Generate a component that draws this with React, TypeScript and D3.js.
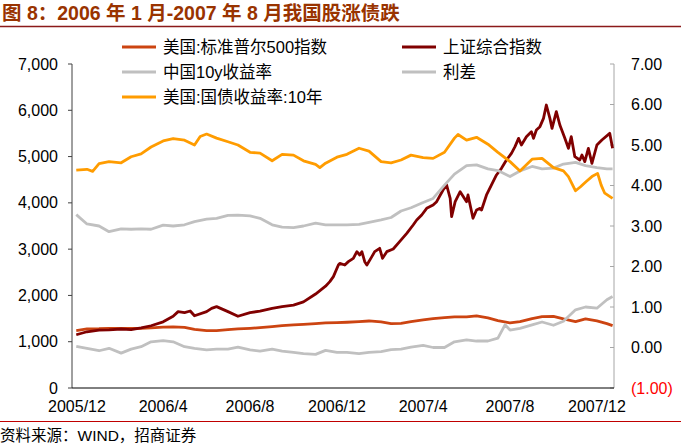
import React from 'react';
import * as d3 from 'd3';

const titleText = '图 8：2006 年 1 月-2007 年 8 月我国股涨债跌';
const sourceText = '资料来源：WIND，招商证券';

const seriesNames = ['美国:标准普尔500指数', '上证综合指数', '中国10y收益率', '利差', '美国:国债收益率:10年'];

const xTickDates = ['2005-12-01', '2006-04-01', '2006-08-01', '2006-12-01', '2007-04-01', '2007-08-01', '2007-12-01'];
const xTickLabels = ['2005/12', '2006/4', '2006/8', '2006/12', '2007/4', '2007/8', '2007/12'];
const leftTicks = [0, 1000, 2000, 3000, 4000, 5000, 6000, 7000];
const rightTicks = [-1, 0, 1, 2, 3, 4, 5, 6, 7];

const halfMonths = [
  '2005-11-30', '2005-12-15', '2006-01-01', '2006-01-15', '2006-02-01', '2006-02-15', '2006-03-01', '2006-03-15',
  '2006-04-01', '2006-04-15', '2006-05-01', '2006-05-15', '2006-06-01', '2006-06-15', '2006-07-01', '2006-07-15',
  '2006-08-01', '2006-08-15', '2006-09-01', '2006-09-15', '2006-10-01', '2006-10-15', '2006-11-01', '2006-11-15',
  '2006-12-01', '2006-12-15', '2007-01-01', '2007-01-15', '2007-02-01', '2007-02-15', '2007-03-01', '2007-03-15',
  '2007-04-01', '2007-04-15', '2007-05-01', '2007-05-15', '2007-06-01', '2007-06-15', '2007-07-01', '2007-07-15',
  '2007-08-01', '2007-08-15', '2007-09-01', '2007-09-15', '2007-10-01', '2007-10-15', '2007-11-01', '2007-11-15',
  '2007-12-01', '2007-12-15', '2007-12-23',
];

const sp500 = [
  1240, 1275, 1280, 1290, 1290, 1285, 1290, 1300, 1315, 1320, 1310, 1265, 1240, 1240, 1261, 1276,
  1290, 1304, 1326, 1348, 1362, 1376, 1391, 1405, 1412, 1420, 1434, 1448, 1427, 1391, 1398, 1434,
  1470, 1499, 1520, 1535, 1535, 1556, 1513, 1456, 1405, 1434, 1499, 1542, 1549, 1492, 1434, 1492,
  1448, 1391, 1348,
];

const china10y = [
  3.28, 3.05, 3.0, 2.86, 2.93, 2.92, 2.93, 2.92, 3.02, 3.0, 3.03, 3.11, 3.17, 3.19, 3.26, 3.27,
  3.25, 3.19, 3.03, 2.97, 2.96, 3.0, 3.07, 3.03, 3.03, 3.03, 3.04, 3.09, 3.15, 3.21, 3.37, 3.45,
  3.58, 3.68, 4.01, 4.28, 4.49, 4.51, 4.41, 4.37, 4.22, 4.36, 4.47, 4.41, 4.43, 4.53, 4.57, 4.49,
  4.44, 4.41, 4.41,
];

const spreadDates = [
  '2005-11-30', '2005-12-15', '2006-01-01', '2006-01-15', '2006-02-01', '2006-02-15', '2006-03-01', '2006-03-15',
  '2006-04-01', '2006-04-15', '2006-05-01', '2006-05-15', '2006-06-01', '2006-06-15', '2006-07-01', '2006-07-15',
  '2006-08-01', '2006-08-15', '2006-09-01', '2006-09-15', '2006-10-01', '2006-10-15', '2006-11-01', '2006-11-15',
  '2006-12-01', '2006-12-15', '2007-01-01', '2007-01-15', '2007-02-01', '2007-02-15', '2007-03-01', '2007-03-15',
  '2007-04-01', '2007-04-15', '2007-05-01', '2007-05-15', '2007-06-01', '2007-06-15', '2007-07-01', '2007-07-15',
  '2007-07-25', '2007-08-01', '2007-08-15', '2007-09-01', '2007-09-15', '2007-10-01', '2007-10-15', '2007-11-01',
  '2007-11-15', '2007-12-01', '2007-12-15', '2007-12-23',
];
const spread = [
  0.03, -0.02, -0.08, -0.02, -0.14, -0.04, 0.02, 0.14, 0.17, 0.14, 0.02, -0.02, -0.06, -0.04, -0.04, 0.01,
  -0.06, -0.09, -0.04, -0.09, -0.12, -0.15, -0.17, -0.07, -0.12, -0.12, -0.15, -0.12, -0.1, -0.05, -0.04, 0.01,
  0.05, 0.0, 0.0, 0.14, 0.19, 0.16, 0.16, 0.23, 0.56, 0.43, 0.47, 0.56, 0.63, 0.55, 0.65, 0.93,
  1.0, 0.97, 1.18, 1.26,
];

const usDates = [
  '2005-11-30', '2005-12-15', '2005-12-23', '2006-01-01', '2006-01-15', '2006-02-01', '2006-02-15', '2006-03-01',
  '2006-03-15', '2006-04-01', '2006-04-15', '2006-05-01', '2006-05-15', '2006-05-23', '2006-06-01', '2006-06-15',
  '2006-07-01', '2006-07-15', '2006-08-01', '2006-08-15', '2006-09-01', '2006-09-15', '2006-10-01', '2006-10-15',
  '2006-11-01', '2006-11-07', '2006-11-15', '2006-12-01', '2006-12-15', '2007-01-01', '2007-01-15', '2007-02-01',
  '2007-02-15', '2007-03-01', '2007-03-15', '2007-04-01', '2007-04-15', '2007-05-01', '2007-05-15', '2007-05-20',
  '2007-06-01', '2007-06-15', '2007-07-01', '2007-07-15', '2007-08-01', '2007-08-15', '2007-09-01', '2007-09-15',
  '2007-10-01', '2007-10-15', '2007-10-22', '2007-11-01', '2007-11-08', '2007-11-16', '2007-11-24', '2007-12-02',
  '2007-12-07', '2007-12-12', '2007-12-23',
];
const us10y = [
  4.38, 4.4, 4.35, 4.54, 4.59, 4.56, 4.71, 4.78, 4.95, 5.1, 5.16, 5.12, 5.0, 5.21, 5.27, 5.17,
  5.08, 5.0, 4.82, 4.8, 4.61, 4.77, 4.75, 4.61, 4.52, 4.44, 4.55, 4.7, 4.77, 4.92, 4.85, 4.59,
  4.56, 4.63, 4.75, 4.69, 4.67, 4.82, 5.17, 5.26, 5.12, 5.19, 5.02, 4.82, 4.59, 4.36, 4.65, 4.67,
  4.44, 4.36, 4.22, 3.87, 3.97, 4.1, 4.22, 4.3, 4.01, 3.81, 3.68,
];

const shDates = [
  '2005-11-30', '2005-12-15', '2006-01-01', '2006-01-15', '2006-02-01', '2006-02-15', '2006-03-01', '2006-03-15',
  '2006-04-01', '2006-04-15', '2006-04-22', '2006-05-01', '2006-05-09', '2006-05-15', '2006-06-01', '2006-06-08',
  '2006-06-15', '2006-07-01', '2006-07-15', '2006-08-01', '2006-08-15', '2006-09-01', '2006-09-15', '2006-10-01',
  '2006-10-15', '2006-11-01', '2006-11-15', '2006-11-21', '2006-11-26', '2006-12-03', '2006-12-05', '2006-12-12',
  '2006-12-17', '2006-12-24', '2006-12-29', '2007-01-02', '2007-01-05', '2007-01-09', '2007-01-12', '2007-01-19',
  '2007-01-23', '2007-01-30', '2007-02-03', '2007-02-09', '2007-02-18', '2007-02-27', '2007-03-09', '2007-03-18',
  '2007-03-23', '2007-03-30', '2007-04-06', '2007-04-15', '2007-04-20', '2007-04-29', '2007-05-04', '2007-05-09',
  '2007-05-11', '2007-05-16', '2007-05-23', '2007-06-01', '2007-06-03', '2007-06-10', '2007-06-15', '2007-06-20',
  '2007-06-22', '2007-06-29', '2007-07-06', '2007-07-13', '2007-07-20', '2007-07-27', '2007-08-03', '2007-08-08',
  '2007-08-13', '2007-08-17', '2007-08-24', '2007-08-31', '2007-09-03', '2007-09-07', '2007-09-12', '2007-09-17',
  '2007-09-21', '2007-09-26', '2007-09-29', '2007-10-05', '2007-10-10', '2007-10-17', '2007-10-22', '2007-10-26',
  '2007-10-31', '2007-11-07', '2007-11-10', '2007-11-14', '2007-11-19', '2007-11-24', '2007-12-01', '2007-12-08',
  '2007-12-19', '2007-12-23',
];
const shanghai = [
  1150, 1215, 1250, 1255, 1275, 1260, 1300, 1345, 1430, 1550, 1650, 1630, 1664, 1560, 1650, 1720,
  1758, 1650, 1550, 1630, 1660, 1720, 1758, 1790, 1860, 2030, 2200, 2298, 2406, 2658, 2694, 2658,
  2730, 2802, 2946, 2874, 2946, 2730, 2658, 2838, 2946, 3018, 2802, 2946, 3004, 3162, 3342, 3522,
  3630, 3738, 3882, 3954, 4026, 4278, 4386, 4098, 3702, 4026, 4242, 4026, 4170, 3666, 3846, 3882,
  3846, 4170, 4386, 4602, 4746, 4926, 5070, 5214, 5394, 5250, 5430, 5538, 5394, 5574, 5646, 5826,
  6114, 5826, 5610, 5970, 5682, 5394, 5178, 5430, 4998, 4926, 5034, 4890, 5178, 4854, 5250, 5358,
  5502, 5178,
];

const parse = d3.timeParse('%Y-%m-%d');
const zip = (ds: string[], vs: number[]) => ds.map((d, i) => [parse(d) as Date, vs[i]] as [Date, number]);

const W = 681;
const H = 446;
const FONT = "'Liberation Sans', Arial, 'Noto Sans CJK SC', sans-serif";

export default function App() {
  const x = d3.scaleTime().domain([parse('2005-11-24') as Date, parse('2007-12-25') as Date]).range([72, 614]);
  const yL = d3.scaleLinear().domain([0, 7000]).range([388, 64]);
  const yR = d3.scaleLinear().domain([-1, 7]).range([388, 64]);

  const lineL = d3.line<[Date, number]>().x((d) => x(d[0])).y((d) => yL(d[1]));
  const lineR = d3.line<[Date, number]>().x((d) => x(d[0])).y((d) => yR(d[1]));

  const colors = ['#CC4411', '#800000', '#C0C0C0', '#C0C0C0', '#FF9C00'];

  const series = [
    { name: seriesNames[0], path: lineL(zip(halfMonths, sp500)), color: colors[0] },
    { name: seriesNames[1], path: lineL(zip(shDates, shanghai)), color: colors[1] },
    { name: seriesNames[2], path: lineR(zip(halfMonths, china10y)), color: colors[2] },
    { name: seriesNames[3], path: lineR(zip(spreadDates, spread)), color: colors[3] },
    { name: seriesNames[4], path: lineR(zip(usDates, us10y)), color: colors[4] },
  ];

  const legendPos = [
    { x: 122, y: 47 },
    { x: 402, y: 47 },
    { x: 122, y: 72 },
    { x: 402, y: 72 },
    { x: 122, y: 97 },
  ];

  const fmtL = d3.format(',');
  const fmtR = (v: number) => (v < 0 ? `(${Math.abs(v).toFixed(2)})` : v.toFixed(2));

  return (
    <svg
      width={W}
      height={H}
      style={{ position: 'absolute', left: 0, top: 0, background: '#fff' }}
      fontFamily={FONT}
    >
      <rect x={0} y={0} width={W} height={H} fill="#fff" />
      <text x={2} y={20} fontSize={19.5} fontWeight="bold" fill="#993300">
        {titleText}
      </text>
      <line x1={0} x2={W} y1={26.5} y2={26.5} stroke="#8B1A1A" strokeWidth={1.5} />

      {/* left axis */}
      <line x1={72} x2={72} y1={64} y2={388} stroke="#404040" strokeWidth={1} />
      {leftTicks.map((t) => (
        <g key={'l' + t}>
          <line x1={68} x2={72} y1={yL(t)} y2={yL(t)} stroke="#404040" />
          <text x={58} y={yL(t) + 5.5} fontSize={16} textAnchor="end" fill="#000">
            {fmtL(t)}
          </text>
        </g>
      ))}

      {/* right axis */}
      <line x1={614} x2={614} y1={64} y2={388} stroke="#A6A6A6" strokeWidth={1} />
      {rightTicks.map((t) => (
        <g key={'r' + t}>
          <line x1={610} x2={614} y1={yR(t)} y2={yR(t)} stroke="#A6A6A6" />
          <text x={631} y={yR(t) + 5.5} fontSize={16} textAnchor="start" fill={t < 0 ? '#FF0000' : '#000'}>
            {fmtR(t)}
          </text>
        </g>
      ))}

      {/* x axis */}
      <line x1={72} x2={614} y1={388} y2={388} stroke="#000" strokeWidth={1} />
      {xTickDates.map((d, i) => (
        <text key={d} x={x(parse(d) as Date)} y={412} fontSize={16} textAnchor="middle" fill="#000">
          {xTickLabels[i]}
        </text>
      ))}

      {/* series */}
      {series.map((s) => (
        <path key={s.name} d={s.path || ''} fill="none" stroke={s.color} strokeWidth={2.8} strokeLinejoin="round" />
      ))}

      {/* legend */}
      {series.map((s, i) => (
        <g key={'lg' + i}>
          <line x1={legendPos[i].x} x2={legendPos[i].x + 34} y1={legendPos[i].y} y2={legendPos[i].y} stroke={s.color} strokeWidth={3} />
          <text x={legendPos[i].x + 41} y={legendPos[i].y + 6} fontSize={16.5} fill="#000">
            {s.name}
          </text>
        </g>
      ))}

      <line x1={0} x2={W} y1={421.5} y2={421.5} stroke="#C00000" strokeWidth={1} />
      <text x={0} y={441} fontSize={15.5} fill="#000">
        {sourceText}
      </text>
    </svg>
  );
}
